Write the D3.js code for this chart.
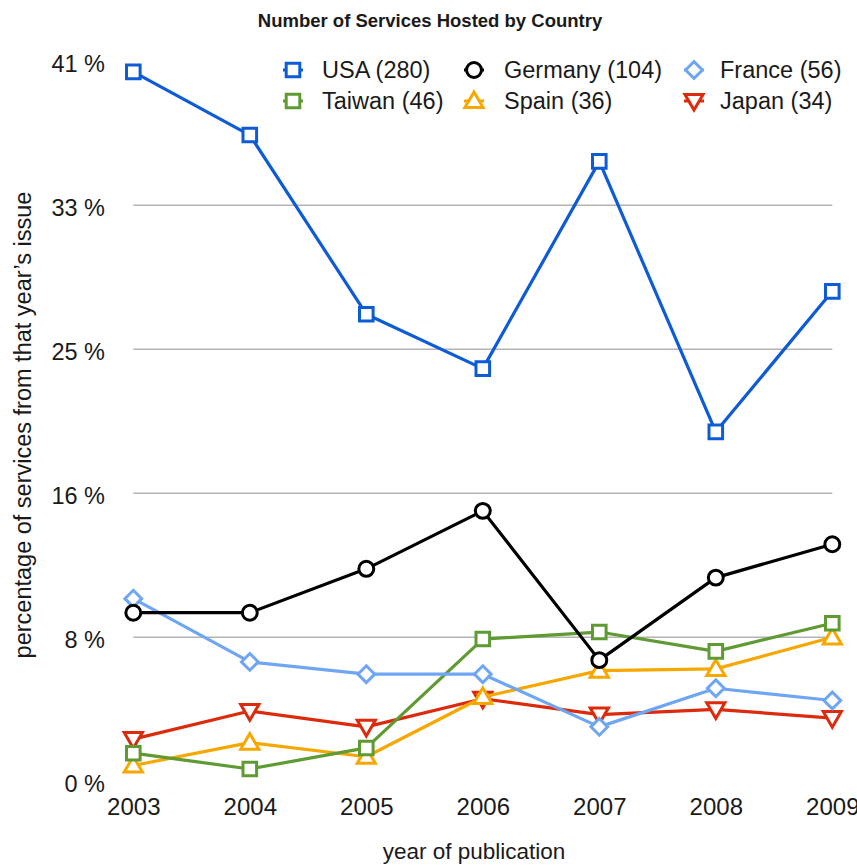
<!DOCTYPE html>
<html>
<head>
<meta charset="utf-8">
<script src="https://cdn.jsdelivr.net/npm/d3@7"></script>
<style>
  html, body { margin: 0; padding: 0; background: #fff; }
  svg { display: block; }
  text { font-family: "Liberation Sans", Arial, Helvetica, sans-serif; fill: #1a1a1a; }
</style>
</head>
<body>
<svg id="chart" width="857" height="865"></svg>
<script>
const years = ["2003", "2004", "2005", "2006", "2007", "2008", "2009"];

const usa     = [40.4, 36.8, 26.6, 23.5, 35.3, 19.9, 27.9];
const germany = [9.6, 9.6, 12.1, 15.4, 6.9, 11.6, 13.5];
const france  = [10.4, 6.8, 6.1, 6.1, 3.1, 5.3, 4.6];
const taiwan  = [1.6, 0.7, 1.9, 8.1, 8.5, 7.4, 9.0];
const spain   = [0.9, 2.2, 1.4, 4.8, 6.3, 6.4, 8.2];
const japan   = [2.4, 4.0, 3.1, 4.7, 3.8, 4.1, 3.6];

const seriesNames  = ["USA (280)", "Germany (104)", "France (56)", "Taiwan (46)", "Spain (36)", "Japan (34)"];
const seriesValues = [usa, germany, france, taiwan, spain, japan];
const seriesColors = ["#0e5bd6", "#000000", "#6fa6f4", "#5f9a33", "#f6a800", "#dc2a0c"];
const seriesShapes = ["square", "circle", "diamond", "square", "triangleUp", "triangleDown"];

const yTickValues = [0, 8.2, 16.4, 24.6, 32.8, 41];
const yTickLabels = ["0 %", "8 %", "16 %", "25 %", "33 %", "41 %"];

const titleText = "Number of Services Hosted by Country";
const xTitle = "year of publication";
const yTitle = "percentage of services from that year\u2019s issue";

const svg = d3.select("#chart");

const x = d3.scalePoint().domain(years).range([133.3, 832.3]);
const y = d3.scaleLinear().domain([0, 41]).range([781.3, 61.3]);

const shapeTypes = {
  square: { draw(ctx, size) { const s = Math.sqrt(size) / 2; ctx.rect(-s, -s, 2 * s, 2 * s); } },
  circle: d3.symbolCircle,
  diamond: { draw(ctx, size) { const r = Math.sqrt(size) / 2; ctx.moveTo(0, -r); ctx.lineTo(r, 0); ctx.lineTo(0, r); ctx.lineTo(-r, 0); ctx.closePath(); } },
  triangleUp: { draw(ctx, size) { const h = Math.sqrt(size); ctx.moveTo(0, -h * 0.62); ctx.lineTo(h * 0.62, h * 0.45); ctx.lineTo(-h * 0.62, h * 0.45); ctx.closePath(); } },
  triangleDown: { draw(ctx, size) { const h = Math.sqrt(size); ctx.moveTo(0, h * 0.62); ctx.lineTo(h * 0.62, -h * 0.45); ctx.lineTo(-h * 0.62, -h * 0.45); ctx.closePath(); } }
};
const shapeSizes = { square: 185, circle: 175, diamond: 280, triangleUp: 215, triangleDown: 215 };
const symbolPath = shape => d3.symbol().type(shapeTypes[shape]).size(shapeSizes[shape])();

// gridlines
svg.append("g").selectAll("line")
  .data(yTickValues.filter(v => v > 0 && v < 41))
  .join("line")
  .attr("x1", x.range()[0]).attr("x2", x.range()[1])
  .attr("y1", d => y(d)).attr("y2", d => y(d))
  .attr("stroke", "#b3b3b3").attr("stroke-width", 1.5);

// y axis labels
const yAxis = d3.axisLeft(y).tickValues(yTickValues)
  .tickFormat((d, i) => yTickLabels[i]).tickSize(0).tickPadding(0);
const yG = svg.append("g").attr("transform", "translate(105,0)").call(yAxis);
yG.select(".domain").remove();
yG.selectAll("text").attr("font-size", 23.5).attr("dy", "0.45em")
  .style("font-family", "'Liberation Sans', Arial, sans-serif").attr("fill", "#222");

// x axis labels
const xAxis = d3.axisBottom(x).tickSize(0).tickPadding(0);
const xG = svg.append("g").attr("transform", "translate(0,798)").call(xAxis);
xG.select(".domain").remove();
xG.selectAll("text").attr("font-size", 24).attr("dy", "0.72em")
  .style("font-family", "'Liberation Sans', Arial, sans-serif").attr("fill", "#222");

// title
svg.append("text").attr("x", 430).attr("y", 27).attr("text-anchor", "middle")
  .attr("font-size", 18.5).attr("font-weight", "bold").attr("fill", "#111").text(titleText);

// axis titles
svg.append("text").attr("x", 474).attr("y", 859).attr("text-anchor", "middle")
  .attr("font-size", 22.5).attr("fill", "#222").text(xTitle);
svg.append("text").attr("transform", "translate(31,425) rotate(-90)").attr("text-anchor", "middle")
  .attr("font-size", 23.5).attr("fill", "#222").text(yTitle);

// series
const line = d3.line().x((d, i) => x(years[i])).y(d => y(d));
const order = [5, 4, 3, 2, 1, 0];
order.forEach(si => {
  const g = svg.append("g");
  g.append("path").datum(seriesValues[si]).attr("d", line)
    .attr("fill", "none").attr("stroke", seriesColors[si]).attr("stroke-width", 3.2)
    .attr("stroke-linejoin", "round");
  g.selectAll("path.m").data(seriesValues[si]).join("path").attr("class", "m")
    .attr("transform", (d, i) => `translate(${x(years[i])},${y(d)})`)
    .attr("d", symbolPath(seriesShapes[si]))
    .attr("fill", "#fff").attr("stroke", seriesColors[si]).attr("stroke-width", 3);
});

// legend
const legMarkerX = [293, 474, 694];
const legTextX = [322, 504, 720];
const legRowY = [70, 101];
const leg = svg.append("g");
seriesNames.forEach((name, i) => {
  const col = i % 3, row = Math.floor(i / 3);
  const g = leg.append("g");
  const mx = legMarkerX[col], my = legRowY[row];
  g.append("line").attr("x1", mx - 10).attr("x2", mx + 10).attr("y1", my).attr("y2", my)
    .attr("stroke", seriesColors[i]).attr("stroke-width", 3);
  g.append("path").attr("transform", `translate(${mx},${my})`)
    .attr("d", symbolPath(seriesShapes[i]))
    .attr("fill", "#fff").attr("stroke", seriesColors[i]).attr("stroke-width", 3);
  g.append("text").attr("x", legTextX[col]).attr("y", my).attr("dy", "0.36em")
    .attr("font-size", 23.5).attr("fill", "#222").text(name);
});
</script>
</body>
</html>
